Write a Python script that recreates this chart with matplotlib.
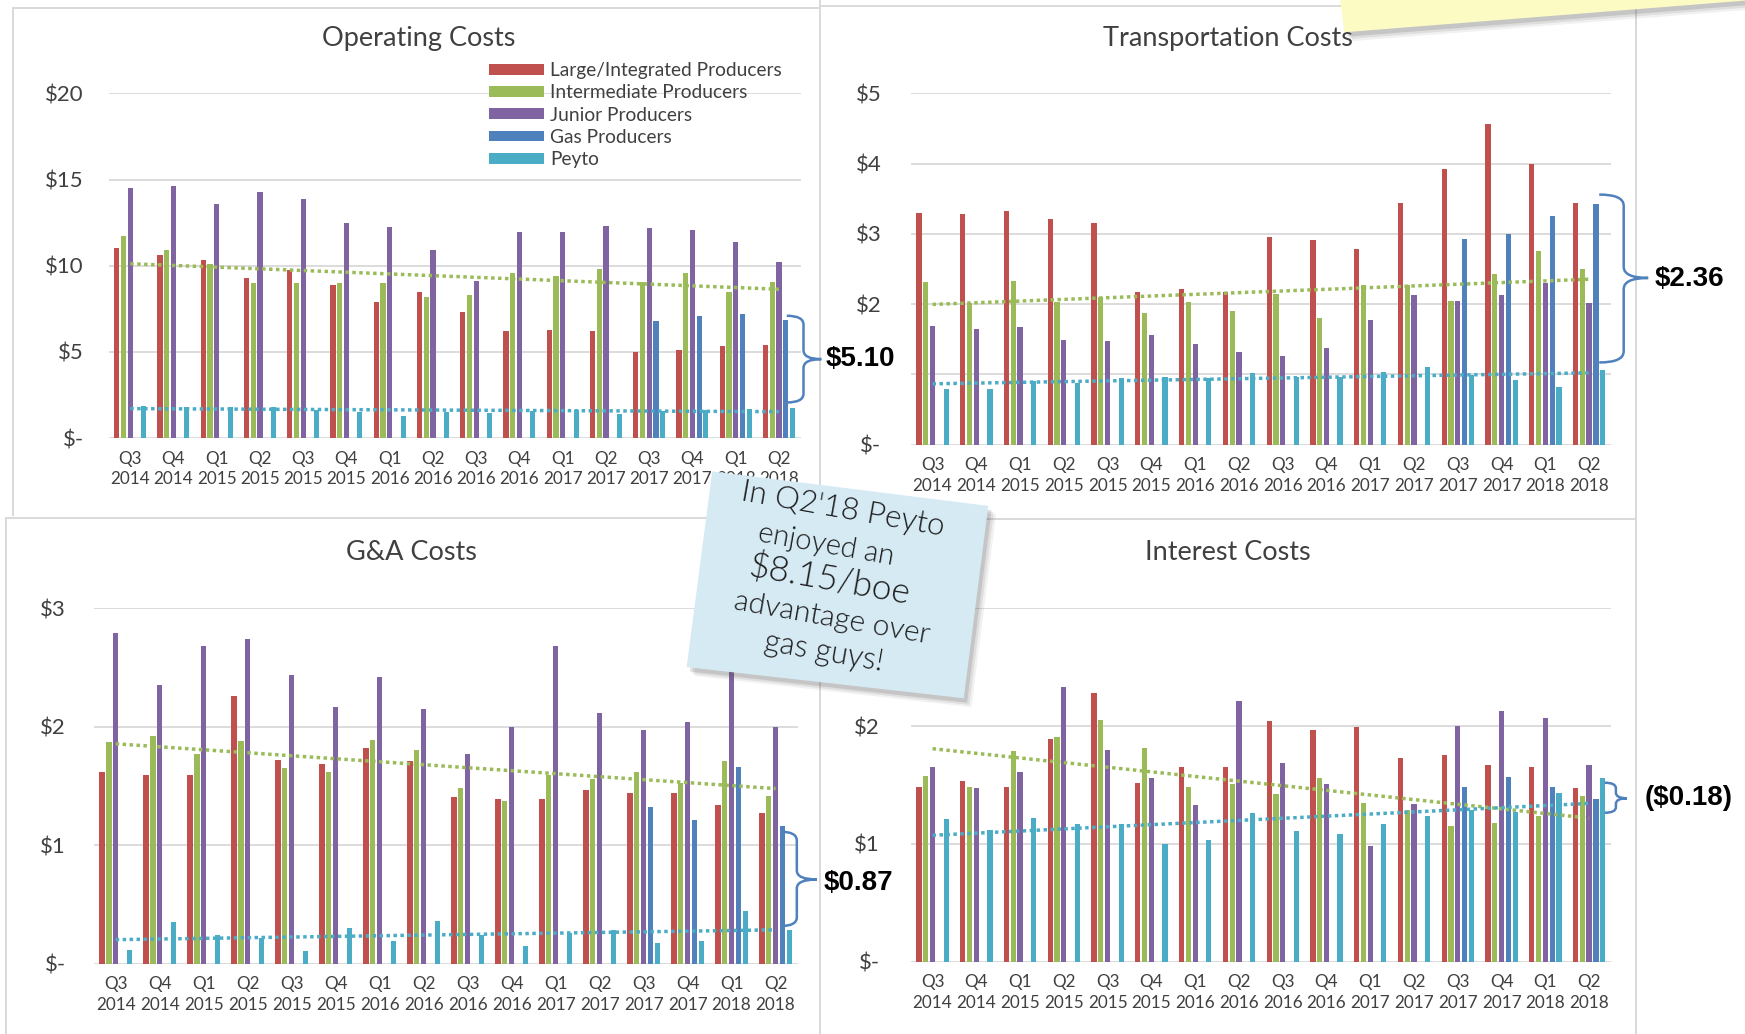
import numpy as np
import matplotlib
matplotlib.use("Agg")
import matplotlib.pyplot as plt
from matplotlib.patches import Polygon, PathPatch, Rectangle
from matplotlib.path import Path
from matplotlib.lines import Line2D

plt.rcParams['font.family'] = ['Lato', 'DejaVu Sans']

nan = np.nan
quarters = ["Q3\n2014", "Q4\n2014", "Q1\n2015", "Q2\n2015", "Q3\n2015", "Q4\n2015",
            "Q1\n2016", "Q2\n2016", "Q3\n2016", "Q4\n2016", "Q1\n2017", "Q2\n2017",
            "Q3\n2017", "Q4\n2017", "Q1\n2018", "Q2\n2018"]
series_names = ["Large/Integrated Producers", "Intermediate Producers",
                "Junior Producers", "Gas Producers", "Peyto"]

# Operating costs ($/boe)
op_large = [11.0, 10.6, 10.35, 9.26, 9.75, 8.9, 7.9, 8.46, 7.3, 6.2, 6.25, 6.2, 4.98, 5.1, 5.35, 5.4]
op_inter = [11.7, 10.9, 10.1, 8.97, 9.0, 8.97, 9.0, 8.17, 8.3, 9.6, 9.38, 9.8, 9.04, 9.58, 8.46, 9.04]
op_junior = [14.5, 14.6, 13.6, 14.3, 13.9, 12.5, 12.25, 10.9, 9.13, 11.96, 11.96, 12.3, 12.17, 12.06, 11.38, 10.2]
op_gas = [nan] * 12 + [6.79, 7.08, 7.17, 6.83]
op_peyto = [1.88, 1.8, 1.8, 1.8, 1.65, 1.5, 1.3, 1.54, 1.44, 1.58, 1.63, 1.38, 1.58, 1.63, 1.69, 1.73]

# Transportation costs
tr_large = [3.30, 3.28, 3.32, 3.21, 3.15, 2.18, 2.22, 2.18, 2.95, 2.91, 2.79, 3.44, 3.93, 4.56, 3.99, 3.44]
tr_inter = [2.31, 2.02, 2.33, 2.03, 2.10, 1.88, 2.03, 1.90, 2.15, 1.81, 2.27, 2.27, 2.04, 2.43, 2.75, 2.50]
tr_junior = [1.69, 1.64, 1.68, 1.49, 1.48, 1.56, 1.43, 1.32, 1.26, 1.37, 1.78, 2.13, 2.04, 2.13, 2.30, 2.02]
tr_gas = [nan] * 12 + [2.93, 3.00, 3.25, 3.42]
tr_peyto = [0.79, 0.79, 0.90, 0.88, 0.95, 0.97, 0.95, 1.02, 0.97, 0.97, 1.04, 1.10, 0.99, 0.92, 0.82, 1.06]

# G&A costs
ga_large = [1.62, 1.59, 1.59, 2.26, 1.72, 1.69, 1.82, 1.71, 1.41, 1.39, 1.39, 1.47, 1.44, 1.44, 1.34, 1.27]
ga_inter = [1.87, 1.92, 1.77, 1.88, 1.65, 1.62, 1.89, 1.80, 1.48, 1.37, 1.59, 1.56, 1.62, 1.53, 1.71, 1.42]
ga_junior = [2.79, 2.35, 2.68, 2.74, 2.44, 2.17, 2.42, 2.15, 1.77, 2.00, 2.68, 2.12, 1.97, 2.04, 2.60, 2.00]
ga_gas = [nan] * 12 + [1.32, 1.21, 1.66, 1.16]
ga_peyto = [0.12, 0.35, 0.24, 0.22, 0.11, 0.30, 0.19, 0.36, 0.24, 0.15, 0.26, 0.29, 0.18, 0.19, 0.45, 0.29]

# Interest costs
in_large = [1.48, 1.53, 1.48, 1.89, 2.28, 1.52, 1.65, 1.65, 2.04, 1.97, 1.99, 1.73, 1.75, 1.67, 1.65, 1.47]
in_inter = [1.58, 1.48, 1.79, 1.91, 2.05, 1.81, 1.48, 1.51, 1.42, 1.56, 1.35, 1.29, 1.15, 1.18, 1.24, 1.41]
in_junior = [1.65, 1.47, 1.61, 2.33, 1.80, 1.56, 1.33, 2.21, 1.69, 1.51, 0.98, 1.34, 2.00, 2.13, 2.07, 1.67]
in_gas = [nan] * 12 + [1.48, 1.57, 1.48, 1.38]
in_peyto = [1.21, 1.12, 1.22, 1.17, 1.17, 1.00, 1.03, 1.26, 1.11, 1.08, 1.17, 1.24, 1.29, 1.27, 1.43, 1.56]

gaps = ["$5.10", "$2.36", "$0.87", "($0.18)"]
note_lines = ["In Q2'18 Peyto", "enjoyed an", "$8.15/boe", "advantage over", "gas guys!"]

# ---------------------------------------------------------------- layout
W, H = 1568.0, 930.0
def fx(x): return x / W
def fy(y): return 1 - y / H

fig = plt.figure(figsize=(17.45, 10.34), dpi=100)
fig.patch.set_facecolor('white')

TXT = '#404040'
GRID = '#d9d9d9'
COLORS = ['#C0504D', '#9BBB59', '#8064A2', '#4F81BD', '#4BACC6']
BAR_W = 0.12
PITCH = 0.155


def money(v):
    return "$-" if v == 0 else "${:g}".format(v)


def make_panel(box, ymax, ystep, data, ypad, hidden=()):
    x0, x1, yt, yb = box
    ax = fig.add_axes([fx(x0), fy(yb), (x1 - x0) / W, (yb - yt) / H])
    x = np.arange(len(quarters))
    for i, (vals, name, c) in enumerate(zip(data, series_names, COLORS)):
        ax.bar(x + (i - 2) * PITCH, vals, BAR_W, color=c, label=name, zorder=2)
    for vals, c in ((data[1], COLORS[1]), (data[4], COLORS[4])):
        p = np.polyfit(x, np.asarray(vals, float), 1)
        xs = np.array([x[0], x[-1]], float)
        ax.plot(xs, np.polyval(p, xs), color=c, lw=2.5, ls=(0, (1, 1.0)), zorder=3)
    ax.set_xlim(-0.5, len(quarters) - 0.5)
    ax.set_ylim(0, ymax)
    ticks = np.arange(0, ymax + 0.001, ystep)
    ax.set_yticks(ticks)
    ax.set_yticklabels(["" if t in hidden else money(t) for t in ticks])
    ax.set_xticks(x)
    ax.set_xticklabels(quarters, linespacing=1.35)
    ax.tick_params(axis='both', length=0, labelcolor=TXT)
    ax.tick_params(axis='y', pad=ypad, labelsize=16)
    ax.tick_params(axis='x', pad=9, labelsize=12.3)
    ax.grid(axis='y', color=GRID, lw=1.3)
    ax.set_axisbelow(True)
    for s in ax.spines.values():
        s.set_visible(False)
    ax.patch.set_alpha(0)
    return ax


ax_op = make_panel((97.6, 719.4, 84, 394), 20, 5,
                   [op_large, op_inter, op_junior, op_gas, op_peyto], 18)
# the "$1" label of this panel is hidden behind the "$5.10" callout in the source
ax_tr = make_panel((818.3, 1447.6, 84, 400), 5, 1,
                   [tr_large, tr_inter, tr_junior, tr_gas, tr_peyto], 21, hidden=(1,))
ax_ga = make_panel((84.2, 716.7, 547, 867), 3, 1,
                   [ga_large, ga_inter, ga_junior, ga_gas, ga_peyto], 20)
# the "$3" label of this panel is hidden behind the sticky note in the source
ax_in = make_panel((818.3, 1447.6, 547, 865), 3, 1,
                   [in_large, in_inter, in_junior, in_gas, in_peyto], 22, hidden=(3,))

ax_op.legend(loc='upper left', bbox_to_anchor=(fx(439), fy(56)),
             bbox_transform=fig.transFigure, frameon=False, fontsize=13.8,
             handlelength=2.9, handleheight=0.5, labelspacing=0.27,
             handletextpad=0.3, borderpad=0, borderaxespad=0, labelcolor=TXT)

for (xc, yc, t) in [(376, 35, "Operating Costs"), (1103, 35, "Transportation Costs"),
                    (370, 497, "G&A Costs"), (1103, 497, "Interest Costs")]:
    fig.text(fx(xc), fy(yc), t, ha='center', va='center', fontsize=19.5, color=TXT)

# panel borders
for (p0, p1) in [((12, 7), (737, 7)), ((12, 7), (12, 463)), ((737, 0), (737, 930)),
                 ((737, 5), (1470, 5)), ((1470, 0), (1470, 930)),
                 ((5, 466), (737, 466)), ((737, 467), (1470, 467)), ((5, 466), (5, 930))]:
    fig.add_artist(Line2D([fx(p0[0]), fx(p1[0])], [fy(p0[1]), fy(p1[1])],
                          transform=fig.transFigure, color='#d9d9d9', lw=1.4, zorder=1))

# white box behind the "$5.10" callout
fig.add_artist(Rectangle((fx(739), fy(346)), fx(818) - fx(739), fy(298) - fy(346),
                         transform=fig.transFigure, fc='white', ec='none', zorder=4))


def brace(x_tip, x_sp, x_pt, y_top, y_bot, y_mid, r):
    pts = [(x_tip, y_top), (x_sp, y_top), (x_sp, y_top + r), (x_sp, y_mid - r),
           (x_sp, y_mid), (x_pt, y_mid), (x_sp, y_mid), (x_sp, y_mid + r),
           (x_sp, y_bot - r), (x_sp, y_bot), (x_tip, y_bot)]
    codes = [Path.MOVETO, Path.CURVE3, Path.CURVE3, Path.LINETO, Path.CURVE3, Path.CURVE3,
             Path.CURVE3, Path.CURVE3, Path.LINETO, Path.CURVE3, Path.CURVE3]
    path = Path([(fx(a), fy(b)) for a, b in pts], codes)
    fig.add_artist(PathPatch(path, transform=fig.transFigure, fc='none',
                             ec='#4F81BD', lw=1.8, zorder=5))


brace(707, 722, 738, 284, 362, 323, 8)
brace(1437, 1459, 1481, 175, 326, 250, 10)
brace(701, 716, 734, 748, 833, 791, 8)
brace(1442, 1452, 1462, 704, 731, 718, 5)

for (xl, yc), t in zip([(742, 323), (1487, 251), (740, 794), (1478, 718)], gaps):
    fig.text(fx(xl), fy(yc), t, ha='left', va='center', fontsize=20,
             fontweight='bold', family='Liberation Sans', color='black', zorder=6)


def note(corners, color, zs):
    for k, (dx, dy, a) in enumerate([(7, 8, 0.08), (5, 6, 0.12), (3, 4, 0.18)]):
        sh = [(fx(x + dx), fy(y + dy)) for x, y in corners]
        fig.add_artist(Polygon(sh, closed=True, transform=fig.transFigure,
                               fc='#555555', ec='none', alpha=a, zorder=zs + k * 0.01))
    fig.add_artist(Polygon([(fx(x), fy(y)) for x, y in corners], closed=True,
                           transform=fig.transFigure, fc=color, ec='none', zorder=zs + 0.1))


note([(1203, -10), (1575, -10), (1575, 0), (1208, 29)], '#fdfbc4', 8)
note([(640, 424), (888, 455), (866, 628), (617, 600)], '#d6eaf4', 9)

for (xc, yc, fs), t in zip([(757, 458, 22.5), (742, 490, 21), (746, 521, 25.5),
                            (748, 556, 21.5), (740, 587, 22)], note_lines):
    fig.text(fx(xc), fy(yc), t, ha='center', va='center', rotation=-10,
             rotation_mode='anchor', fontsize=fs, fontweight=300,
             color='#1c1c1c', zorder=10)

fig.savefig("out.png", dpi=100, facecolor='white')
